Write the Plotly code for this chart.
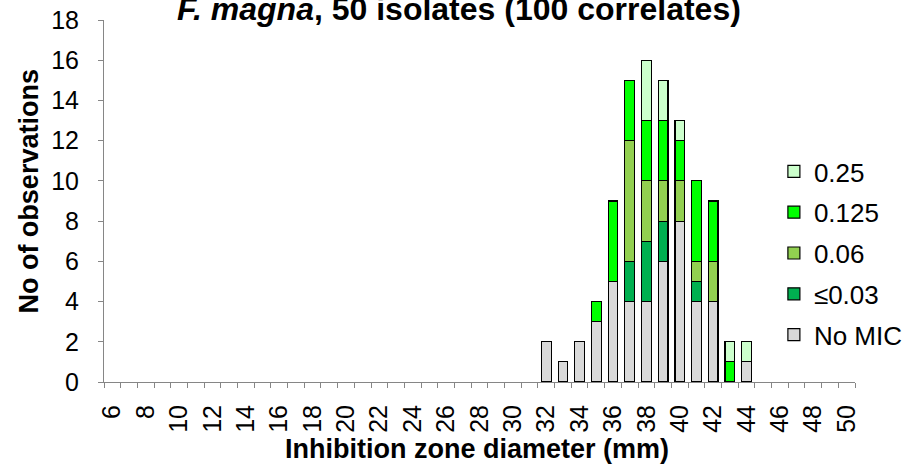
import plotly.graph_objects as go

# Data
diameters = list(range(6, 51))
tick_labels = [str(d) if d % 2 == 0 else "" for d in diameters]

series_names = ["No MIC", "≤0.03", "0.06", "0.125", "0.25"]
series_colors = ["#D9D9D9", "#00B050", "#92D050", "#00FF00", "#CCFFCC"]

no_mic = {32: 2, 33: 1, 34: 2, 35: 3, 36: 5, 37: 4, 38: 4, 39: 6, 40: 8, 41: 4, 42: 4, 44: 1}
le_003 = {37: 2, 38: 3, 39: 2, 41: 1}
v_006 = {37: 6, 38: 3, 39: 2, 40: 2, 41: 1, 42: 2}
v_0125 = {35: 1, 36: 4, 37: 3, 38: 3, 39: 3, 40: 2, 41: 4, 42: 3, 43: 1}
v_025 = {38: 3, 39: 2, 40: 1, 43: 1, 44: 1}

series_values = [no_mic, le_003, v_006, v_0125, v_025]

title_text = "<b><i>F. magna</i>, 50 isolates (100 correlates)</b>"
x_title = "<b>Inhibition zone diameter (mm)</b>"
y_title = "<b>No of observations</b>"

FONT = "Liberation Sans, Arial, sans-serif"

fig = go.Figure()
n = len(series_names)
for i, (name, color, vals) in enumerate(zip(series_names, series_colors, series_values)):
    fig.add_trace(go.Bar(
        x=[str(d) for d in diameters],
        y=[vals.get(d) for d in diameters],
        name=name,
        legendgroup=name,
        legendrank=1000 + (n - i),
        marker=dict(color=color, line=dict(color="black", width=1.2)),
    ))

fig.update_layout(
    width=915, height=468,
    barmode="stack",
    bargap=0.42,
    plot_bgcolor="white", paper_bgcolor="white",
    margin=dict(l=104, r=60, t=20, b=86, autoexpand=False),
    font=dict(family=FONT, color="black", size=24),
    showlegend=True,
    legend=dict(
        x=0.892, xanchor="left", y=0.355, yanchor="middle",
        traceorder="grouped", tracegroupgap=4,
        font=dict(size=26, family=FONT),
        bgcolor="rgba(0,0,0,0)",
    ),
    annotations=[
        dict(text=title_text, xref="paper", yref="paper", x=0.4727, y=1,
             xanchor="center", yanchor="middle", yshift=11, showarrow=False,
             font=dict(size=32, family=FONT, color="black")),
        dict(text=x_title, xref="paper", yref="paper", x=0.497, y=0,
             xanchor="center", yanchor="middle", yshift=-67, showarrow=False,
             font=dict(size=27, family=FONT, color="black")),
        dict(text=y_title, xref="paper", yref="paper", x=0, y=0.5276,
             xanchor="center", yanchor="middle", xshift=-75.4, textangle=-90,
             showarrow=False, font=dict(size=27, family=FONT, color="black")),
    ],
)

fig.update_xaxes(
    type="category", automargin=False,
    tickmode="array", tickvals=[str(d) for d in diameters], ticktext=tick_labels,
    tickson="boundaries", ticks="outside", ticklen=5, tickcolor="#868686",
    tickangle=-90, tickfont=dict(size=25, family=FONT), ticklabelstandoff=12,
    showline=True, linecolor="#868686", linewidth=1,
    showgrid=False,
)
fig.update_yaxes(
    range=[0, 18], dtick=2, tick0=0, automargin=False,
    ticks="outside", ticklen=5, tickcolor="#868686",
    tickfont=dict(size=25, family=FONT), ticklabelstandoff=14,
    showline=True, linecolor="#868686", linewidth=1,
    showgrid=False, zeroline=False,
)

fig.write_html("out.html", config={"displayModeBar": False},
               post_script="document.body.style.margin='0px';")
